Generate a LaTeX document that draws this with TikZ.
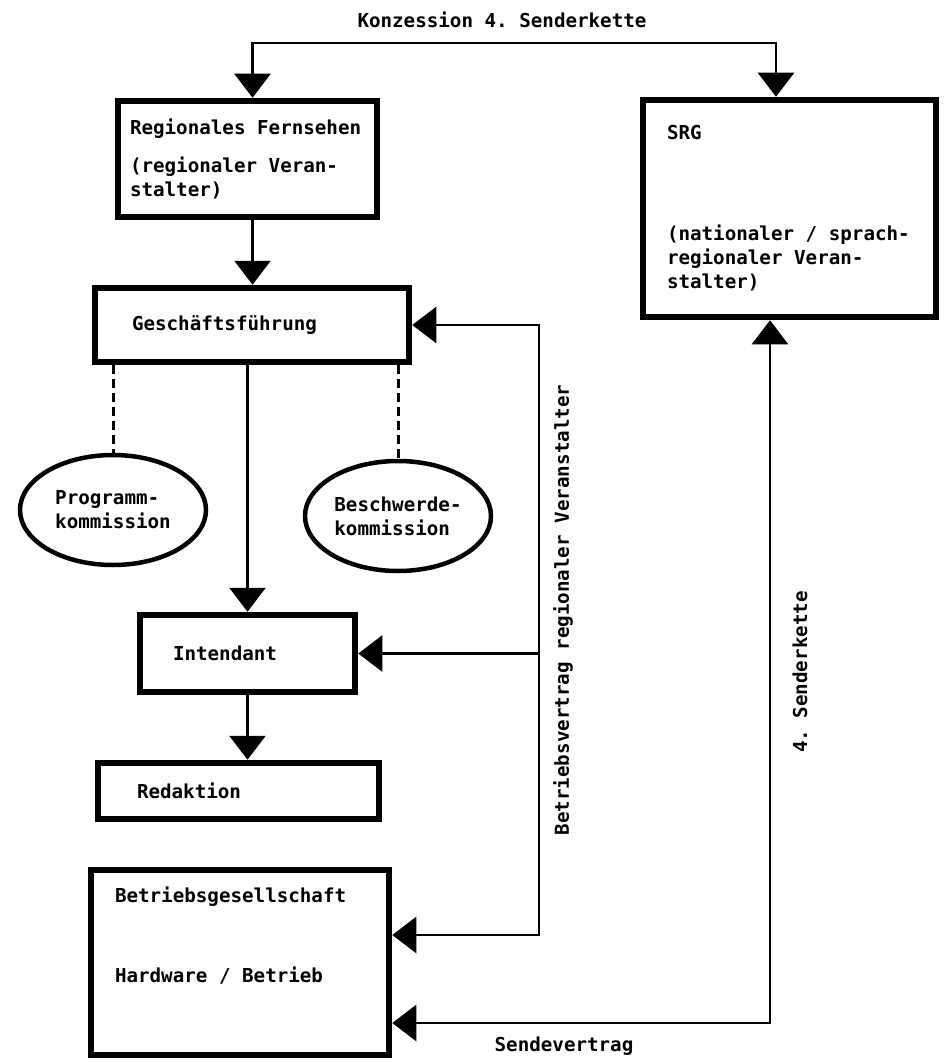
\documentclass[tikz,border=0pt]{standalone}
\usepackage{fontspec}
\setmonofont{DejaVu Sans Mono}
\usetikzlibrary{arrows.meta,shapes.geometric}

\tikzset{
    schrift/.style={font=\ttfamily\bfseries\fontsize{19.2}{24}\selectfont},
    orgbox/.style={schrift, draw, line width=6.5pt, align=flush left, inner ysep=0pt},
    kommission/.style={schrift, ellipse, draw, line width=4.5pt, align=flush left,
        inner sep=0pt, minimum width=186pt, minimum height=110pt},
    verbindung/.style={line width=2.5pt, -{Triangle[length=24pt,width=36pt]}},
    doppelt/.style={line width=2.5pt, {Triangle[length=24pt,width=36pt]}-{Triangle[length=24pt,width=36pt]}},
    gestrichelt/.style={line width=3pt, dash pattern=on 9pt off 5pt}
}

\begin{document}
\begin{tikzpicture}[x=1pt,y=-1pt]
    \useasboundingbox (0,0) rectangle (943,1062);

    % Kästen
    \node[orgbox, text width=235pt, inner xsep=12pt, minimum height=116pt] (regional) at (247.5,159)
        {Regionales Fernsehen\\[14pt](regionaler Veran-\\stalter)};
    \node[orgbox, text width=240pt, inner xsep=37pt, minimum height=74pt] (gf) at (252,325)
        {Geschäftsführung};
    \node[orgbox, text width=245pt, inner xsep=24pt, minimum height=217pt] (srg) at (789.5,208.5)
        {SRG\\[77pt](nationaler / sprach-\\regionaler Veran-\\stalter)};
    \node[orgbox, text width=149pt, inner xsep=33pt, minimum height=77pt] (intendant) at (247.5,653.5)
        {Intendant};
    \node[orgbox, text width=203pt, inner xsep=39pt, minimum height=56pt] (redaktion) at (238.5,791)
        {Redaktion};
    \node[orgbox, text width=250pt, inner xsep=24pt, minimum height=185pt] (betrieb) at (240,962.5)
        {Betriebsgesellschaft\\[56pt]Hardware / Betrieb\\[31pt]\mbox{}};

    % Kommissionen
    \node[kommission] (prog) at (113,510) {Programm-\\kommission};
    \node[kommission] (besch) at (398,516) {Beschwerde-\\kommission};

    % Beschriftungen
    \node[schrift] (konzession) at (502,20) {Konzession 4. Senderkette};
    \node[schrift, rotate=90] (betriebsvertrag) at (563,610) {Betriebsvertrag regionaler Veranstalter};
    \node[schrift, rotate=90] (senderkette) at (800,672) {4. Senderkette};
    \node[schrift] (sendevertrag) at (564,1046) {Sendevertrag};

    % Verbindungen
    \coordinate (konz) at (500,43);
    \draw[doppelt] ([xshift=5pt]regional.north) |- (konz) -| ([xshift=-13.5pt]srg.north);
    \draw[verbindung] ([xshift=5pt]regional.south) -- ([xshift=5pt]regional.south |- gf.north);
    \draw[verbindung] (intendant.north |- gf.south) -- (intendant.north);
    \draw[verbindung] (intendant.south) -- (intendant.south |- redaktion.north);

    \draw[gestrichelt] (prog.north |- gf.south) -- (prog.north);
    \draw[gestrichelt] (besch.north |- gf.south) -- (besch.north);

    \coordinate (vertrag) at (539,935);
    \draw[doppelt] (gf.east) -| (vertrag) -- (vertrag -| betrieb.east);
    \draw[verbindung] (vertrag |- intendant.east) -- (intendant.east);

    \coordinate (sende) at (770,1023);
    \draw[doppelt] (sende -| betrieb.east) -- (sende) -- (sende |- srg.south);
\end{tikzpicture}
\end{document}
